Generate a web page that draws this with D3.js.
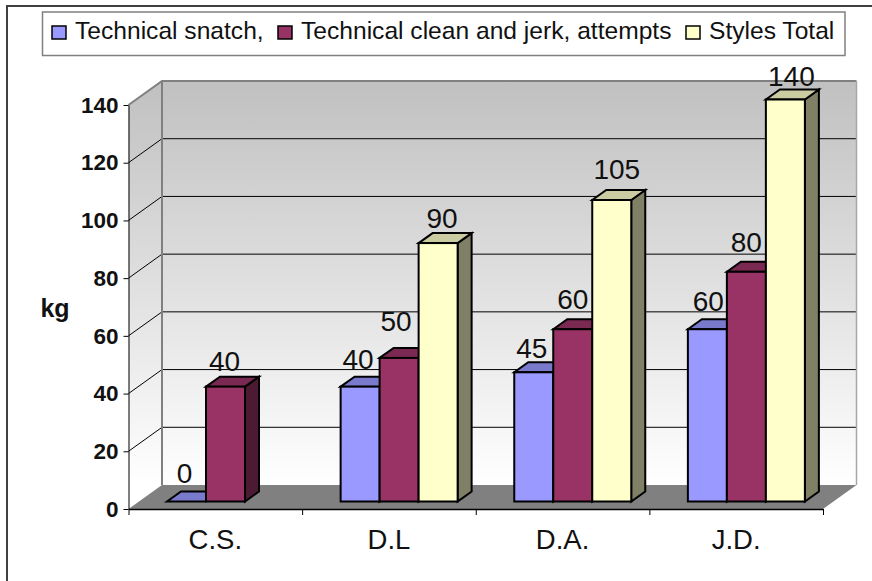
<!DOCTYPE html>
<html><head><meta charset="utf-8">
<script src="https://cdn.jsdelivr.net/npm/d3@7"></script>
<style>html,body{margin:0;padding:0;background:#fff}svg{display:block}text{font-family:"Liberation Sans",Arial,sans-serif;fill:#111}</style>
</head><body><svg id="c" width="872" height="581"></svg>
<script>
const categories = ["C.S.", "D.L", "D.A.", "J.D."];
const seriesNames = ["Technical snatch,", "Technical clean and jerk, attempts", "Styles Total"];
const snatch = [0, 40, 45, 60];
const cleanJerk = [40, 50, 60, 80];
const stylesTotal = [null, 90, 105, 140];
const yTicks = [0, 20, 40, 60, 80, 100, 120, 140];
const frontColors = ["#9999ff", "#993366", "#ffffcc"];
const topColors = ["#7a7acc", "#7a2952", "#cccca3"];
const sideColors = ["#4d4d80", "#4d1a33", "#808066"];
const labelNudge = [[[-2,-3],[-2,-2],[-2,2],[1,-2]],[[-1,0],[-3,-11],[0,-4],[0,-4]],[[0,0],[4,1],[5,-5],[6,2]]];

const svg = d3.select("#c");
const M = {left:128.5, right:823, bottom:509, top:105};
const depth = {x:33.5, y:-24};
const barDepth = {x:14, y:-10};
const x = d3.scaleBand().domain(categories).range([M.left, M.right]);
const xInner = d3.scaleBand().domain(d3.range(3)).range([38.5, 155.5]);
const y = d3.scaleLinear().domain([0,140]).range([M.bottom, M.top]);
const yBar = d3.scaleLinear().domain([0,140]).range([501.5, 99.5]);
const series = [snatch, cleanJerk, stylesTotal];

const defs = svg.append("defs");
const g1 = defs.append("linearGradient").attr("id","wall").attr("gradientUnits","userSpaceOnUse")
  .attr("x1",0).attr("x2",0).attr("y1",M.top+depth.y).attr("y2",M.bottom+depth.y);
g1.append("stop").attr("offset",0).attr("stop-color","#c0c0c0");
g1.append("stop").attr("offset",1).attr("stop-color","#ffffff");

svg.append("path").attr("d","M7,581V6H872").attr("fill","none").attr("stroke","#404040").attr("stroke-width",2);

const bx0=M.left+depth.x, bx1=M.right+depth.x, by0=M.bottom+depth.y, by1=M.top+depth.y;
svg.append("rect").attr("x",bx0).attr("y",by1).attr("width",bx1-bx0).attr("height",by0-by1).attr("fill","url(#wall)");
svg.append("path").attr("d",`M${M.left},${M.top}L${bx0},${by1}V${by0}L${M.left},${M.bottom}Z`).attr("fill","url(#wall)");
svg.append("path").attr("d",`M${M.left},${M.bottom}L${bx0},${by0}H${bx1}L${M.right},${M.bottom}Z`).attr("fill","#808080");
yTicks.filter(t=>t>0&&t<140).forEach(t=>{
  svg.append("path").attr("d",`M${M.left},${y(t)}L${bx0},${y(t)+depth.y}H${bx1}`).attr("fill","none").attr("stroke","#000").attr("stroke-width",1);
});
svg.append("path").attr("d",`M${M.left},${M.top}L${bx0},${by1}H${bx1}`).attr("fill","none").attr("stroke","#808080").attr("stroke-width",2);
svg.append("path").attr("d",`M${bx0},${by1}V${by0}`).attr("fill","none").attr("stroke","#808080").attr("stroke-width",2);
svg.append("path").attr("d",`M${bx1},${by1}V${by0}`).attr("fill","none").attr("stroke","#a6a6a6").attr("stroke-width",1.5);

const yAxis = svg.append("g").attr("transform",`translate(${M.left},0)`).call(d3.axisLeft(y).tickValues(yTicks).tickSize(5).tickPadding(5).tickSizeOuter(0));
yAxis.selectAll("text").attr("font-size",22.5).attr("font-weight","bold").style("font-family",'"Liberation Sans",Arial,sans-serif').attr("fill","#111");
yAxis.selectAll("line,path").attr("stroke","#000");
const tickScale = d3.scaleLinear().domain([0,4]).range([M.left,M.right]);
const xAxisT = svg.append("g").attr("transform",`translate(0,${M.bottom})`).call(d3.axisBottom(tickScale).ticks(4).tickSize(6).tickSizeOuter(0).tickFormat(""));
xAxisT.selectAll("line").attr("stroke","#000");
xAxisT.select("path").attr("stroke","#000").attr("stroke-width",1.5);
svg.append("g").selectAll("text").data(categories).join("text")
  .attr("x",d=>x(d)+x.bandwidth()/2).attr("y",549).attr("text-anchor","middle").attr("font-size",27.5).text(d=>d);
svg.append("text").attr("x",55).attr("y",317).attr("text-anchor","middle").attr("font-size",25).attr("font-weight","bold").text("kg");

categories.forEach((c,ci)=>{
  series.forEach((vals,si)=>{
    const v = vals[ci];
    if (v===null) return;
    const L = x(c)+xInner(si), R = L+xInner.bandwidth(), T = yBar(v), B = yBar(0);
    const g = svg.append("g").attr("stroke","#000").attr("stroke-width",2).attr("stroke-linejoin","miter");
    g.append("path").attr("d",`M${R},${T}L${R+barDepth.x},${T+barDepth.y}V${B+barDepth.y}L${R},${B}Z`).attr("fill",sideColors[si]);
    g.append("path").attr("d",`M${L},${T}L${L+barDepth.x},${T+barDepth.y}H${R+barDepth.x}L${R},${T}Z`).attr("fill",topColors[si]);
    g.append("rect").attr("x",L).attr("y",T).attr("width",R-L).attr("height",B-T).attr("fill",frontColors[si]);
  });
});
categories.forEach((c,ci)=>{
  series.forEach((vals,si)=>{
    const v = vals[ci];
    if (v===null) return;
    const n = labelNudge[si][ci];
    svg.append("text").attr("x",x(c)+xInner(si)+xInner.bandwidth()/2+n[0]).attr("y",yBar(v)-18+n[1]+2)
      .attr("text-anchor","middle").attr("font-size",28).text(v);
  });
});

svg.append("rect").attr("x",42.5).attr("y",12).attr("width",802.5).attr("height",43.5).attr("fill","#fff").attr("stroke","#808080").attr("stroke-width",1.5);
const legendX = [52, 278, 686];
seriesNames.forEach((n,i)=>{
  svg.append("rect").attr("x",legendX[i]).attr("y",26).attr("width",14).attr("height",13).attr("fill",frontColors[i]).attr("stroke","#000").attr("stroke-width",1.5);
  svg.append("text").attr("x",legendX[i]+23).attr("y",39).attr("font-size",24.6).text(n);
});
</script></body></html>
